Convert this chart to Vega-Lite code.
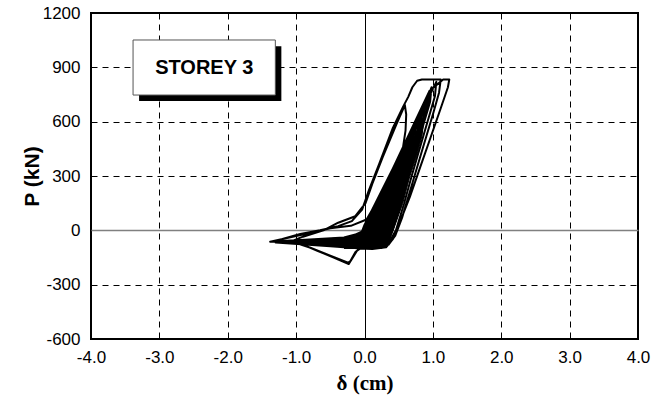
{
  "$schema": "https://vega.github.io/schema/vega-lite/v6.json",
  "width": 547,
  "height": 326,
  "autosize": "none",
  "padding": {"left": 91, "top": 13, "right": 18, "bottom": 67},
  "background": "white",
  "config": {
    "view": {"stroke": "black", "strokeWidth": 2},
    "font": "Liberation Sans"
  },
  "datasets": {
    "loops": [
      {"d":0,"p":0},
      {"d":0.02,"p":30},{"d":0.18,"p":150},{"d":0.42,"p":275},{"d":0.45,"p":300},
      {"d":0.43,"p":220},{"d":0.38,"p":150},{"d":0.26,"p":0},{"d":0.18,"p":-65},{"d":0.06,"p":-98},{"d":-0.05,"p":-100},{"d":-0.2,"p":-85},{"d":-0.4,"p":-50},
      {"d":-0.25,"p":-42},{"d":-0.05,"p":-20},{"d":0.02,"p":30},{"d":0.19,"p":150},{"d":0.39,"p":300},{"d":0.49,"p":335},{"d":0.52,"p":360},
      {"d":0.5,"p":280},{"d":0.4,"p":150},{"d":0.28,"p":0},{"d":0.2,"p":-65},{"d":0.08,"p":-98},{"d":-0.05,"p":-100},{"d":-0.3,"p":-88},{"d":-0.5,"p":-52},
      {"d":-0.3,"p":-50},{"d":-0.05,"p":-20},{"d":0.02,"p":30},{"d":0.2,"p":150},{"d":0.4,"p":300},{"d":0.55,"p":395},{"d":0.58,"p":420},
      {"d":0.56,"p":340},{"d":0.53,"p":300},{"d":0.41,"p":150},{"d":0.3,"p":0},{"d":0.22,"p":-65},{"d":0.1,"p":-98},{"d":-0.05,"p":-100},{"d":-0.35,"p":-88},{"d":-0.6,"p":-55},
      {"d":-0.42,"p":-52},{"d":-0.25,"p":-42},{"d":-0.05,"p":-20},{"d":0.02,"p":30},{"d":0.18,"p":150},{"d":0.38,"p":300},{"d":0.6,"p":435},{"d":0.63,"p":460},
      {"d":0.61,"p":380},{"d":0.55,"p":300},{"d":0.43,"p":150},{"d":0.32,"p":0},{"d":0.24,"p":-65},{"d":0.12,"p":-98},{"d":-0.05,"p":-100},{"d":-0.4,"p":-88},{"d":-0.7,"p":-57},
      {"d":-0.48,"p":-52},{"d":-0.25,"p":-42},{"d":-0.05,"p":-20},{"d":0.03,"p":30},{"d":0.21,"p":150},{"d":0.41,"p":300},{"d":0.61,"p":450},{"d":0.65,"p":485},{"d":0.68,"p":510},
      {"d":0.66,"p":430},{"d":0.56,"p":300},{"d":0.44,"p":150},{"d":0.33,"p":0},{"d":0.25,"p":-65},{"d":0.13,"p":-98},{"d":-0.05,"p":-100},{"d":-0.4,"p":-88},{"d":-0.8,"p":-60},
      {"d":-0.5,"p":-52},{"d":-0.25,"p":-42},{"d":-0.05,"p":-20},{"d":0.0,"p":30},{"d":0.16,"p":150},{"d":0.36,"p":300},{"d":0.56,"p":450},{"d":0.69,"p":525},{"d":0.72,"p":550},
      {"d":0.7,"p":470},{"d":0.57,"p":300},{"d":0.45,"p":150},{"d":0.34,"p":0},{"d":0.26,"p":-65},{"d":0.14,"p":-98},{"d":-0.05,"p":-100},{"d":-0.4,"p":-88},{"d":-0.85,"p":-61},
      {"d":-0.51,"p":-52},{"d":-0.25,"p":-42},{"d":-0.05,"p":-20},{"d":0.04,"p":30},{"d":0.22,"p":150},{"d":0.42,"p":300},{"d":0.62,"p":450},{"d":0.73,"p":565},{"d":0.76,"p":590},
      {"d":0.74,"p":510},{"d":0.58,"p":300},{"d":0.46,"p":150},{"d":0.35,"p":0},{"d":0.27,"p":-65},{"d":0.15,"p":-98},{"d":-0.05,"p":-100},{"d":-0.4,"p":-88},{"d":-0.9,"p":-62},
      {"d":-0.54,"p":-52},{"d":-0.25,"p":-42},{"d":-0.05,"p":-20},{"d":0.02,"p":30},{"d":0.19,"p":150},{"d":0.39,"p":300},{"d":0.59,"p":450},{"d":0.77,"p":605},{"d":0.8,"p":630},
      {"d":0.78,"p":550},{"d":0.59,"p":300},{"d":0.47,"p":150},{"d":0.36,"p":0},{"d":0.28,"p":-65},{"d":0.16,"p":-98},{"d":-0.05,"p":-100},{"d":-0.45,"p":-88},{"d":-0.95,"p":-63},
      {"d":-0.57,"p":-52},{"d":-0.25,"p":-42},{"d":-0.05,"p":-20},{"d":0.04,"p":30},{"d":0.23,"p":150},{"d":0.43,"p":300},{"d":0.63,"p":450},{"d":0.81,"p":635},{"d":0.84,"p":660},
      {"d":0.82,"p":580},{"d":0.6,"p":300},{"d":0.49,"p":150},{"d":0.37,"p":0},{"d":0.29,"p":-65},{"d":0.17,"p":-98},{"d":-0.05,"p":-100},{"d":-0.45,"p":-88},{"d":-1.0,"p":-64},
      {"d":-0.6,"p":-52},{"d":-0.25,"p":-42},{"d":-0.05,"p":-20},{"d":0.02,"p":30},{"d":0.18,"p":150},{"d":0.38,"p":300},{"d":0.58,"p":450},{"d":0.76,"p":600},{"d":0.85,"p":675},{"d":0.88,"p":700},
      {"d":0.86,"p":620},{"d":0.61,"p":300},{"d":0.5,"p":150},{"d":0.38,"p":0},{"d":0.3,"p":-65},{"d":0.18,"p":-98},{"d":-0.05,"p":-100},{"d":-0.5,"p":-88},{"d":-1.05,"p":-65},
      {"d":-0.63,"p":-52},{"d":-0.25,"p":-42},{"d":-0.05,"p":-20},{"d":0.03,"p":30},{"d":0.21,"p":150},{"d":0.41,"p":300},{"d":0.61,"p":450},{"d":0.79,"p":600},{"d":0.89,"p":715},{"d":0.92,"p":740},
      {"d":0.9,"p":660},{"d":0.62,"p":300},{"d":0.51,"p":150},{"d":0.39,"p":0},{"d":0.31,"p":-65},{"d":0.19,"p":-98},{"d":-0.05,"p":-100},{"d":-0.5,"p":-88},{"d":-1.1,"p":-65},
      {"d":-0.9,"p":-35},{"d":-0.6,"p":0},{"d":-0.385,"p":42},{"d":-0.135,"p":78},{"d":0.015,"p":150},{"d":0.115,"p":258},{"d":0.265,"p":403},{"d":0.465,"p":584},{"d":0.59,"p":692},
      {"d":0.61,"p":640},{"d":0.6,"p":550},{"d":0.5,"p":300},{"d":0.4,"p":150},{"d":0.3,"p":0},{"d":0.22,"p":-65},{"d":0.1,"p":-98},{"d":-0.05,"p":-100},{"d":-0.5,"p":-88},{"d":-1.15,"p":-66},
      {"d":-0.69,"p":-52},{"d":-0.25,"p":-42},{"d":-0.05,"p":-20},{"d":0.02,"p":30},{"d":0.2,"p":150},{"d":0.4,"p":300},{"d":0.6,"p":450},{"d":0.78,"p":600},{"d":0.92,"p":730},{"d":0.98,"p":790},
      {"d":0.96,"p":710},{"d":0.64,"p":300},{"d":0.53,"p":150},{"d":0.41,"p":0},{"d":0.33,"p":-65},{"d":0.21,"p":-98},{"d":-0.05,"p":-100},{"d":-0.5,"p":-88},{"d":-1.2,"p":-66},
      {"d":-0.72,"p":-52},{"d":-0.25,"p":-42},{"d":-0.05,"p":-20},{"d":0.03,"p":30},{"d":0.22,"p":150},{"d":0.42,"p":300},{"d":0.62,"p":450},{"d":0.8,"p":600},{"d":0.96,"p":750},{"d":1.05,"p":820},
      {"d":1.03,"p":740},{"d":0.69,"p":300},{"d":0.58,"p":150},{"d":0.46,"p":0},{"d":0.36,"p":-65},{"d":0.22,"p":-98},{"d":-0.05,"p":-100},{"d":-0.5,"p":-88},{"d":-1.3,"p":-67},
      {"d":-1.2,"p":-48},{"d":-0.94,"p":-20},{"d":-0.65,"p":0},{"d":-0.385,"p":23},{"d":-0.185,"p":51},{"d":-0.035,"p":114},{"d":0.065,"p":222},{"d":0.215,"p":367},{"d":0.415,"p":566},{"d":0.565,"p":683},{"d":0.64,"p":737},{"d":0.7,"p":790},{"d":0.77,"p":826},{"d":0.84,"p":833},{"d":1.115,"p":833},
      {"d":1.09,"p":760},{"d":1.0,"p":640},{"d":0.85,"p":450},{"d":0.7,"p":260},{"d":0.55,"p":70},{"d":0.45,"p":-30},{"d":0.35,"p":-80},{"d":0.15,"p":-100},{"d":-0.06,"p":-96},{"d":-0.11,"p":-113},{"d":-0.23,"p":-186},{"d":-0.45,"p":-150},{"d":-0.69,"p":-113},{"d":-1.04,"p":-57},{"d":-1.38,"p":-63},
      {"d":-1.1,"p":-40},{"d":-0.8,"p":-15},{"d":-0.5,"p":12},{"d":-0.2,"p":25},{"d":0.03,"p":60},{"d":0.2,"p":170},{"d":0.45,"p":370},{"d":0.7,"p":570},{"d":0.95,"p":770},{"d":1.15,"p":833},{"d":1.24,"p":833},
      {"d":1.22,"p":790},{"d":1.115,"p":674},{"d":0.965,"p":511},{"d":0.815,"p":349},{"d":0.665,"p":186},{"d":0.515,"p":42},{"d":0.415,"p":-49},{"d":0.315,"p":-94},{"d":0.115,"p":-103},{"d":-0.06,"p":-100},{"d":-0.13,"p":-118},{"d":-0.21,"p":-172},{"d":-0.24,"p":-178},{"d":-0.5,"p":-140},{"d":-0.8,"p":-95},{"d":-1.1,"p":-58},{"d":-1.35,"p":-62},
      {"d":-0.8,"p":-50},{"d":-0.3,"p":-40},{"d":-0.05,"p":-15},{"d":0.03,"p":30},{"d":0.2,"p":150},{"d":0.42,"p":320},{"d":0.65,"p":500},{"d":0.85,"p":680},{"d":0.95,"p":760},
      {"d":0.93,"p":690},{"d":0.63,"p":300},{"d":0.51,"p":150},{"d":0.4,"p":0},{"d":0.32,"p":-65},{"d":0.2,"p":-98},{"d":-0.05,"p":-100},{"d":-0.5,"p":-86},{"d":-1.0,"p":-62},
      {"d":-0.6,"p":-50},{"d":-0.25,"p":-40},{"d":-0.05,"p":-18},{"d":0.03,"p":30},{"d":0.21,"p":150},{"d":0.41,"p":300},{"d":0.6,"p":440},{"d":0.8,"p":600},
      {"d":0.78,"p":520},{"d":0.61,"p":300},{"d":0.5,"p":150},{"d":0.38,"p":0},{"d":0.3,"p":-65},{"d":0.18,"p":-98},{"d":-0.05,"p":-100},{"d":-0.45,"p":-86},{"d":-0.9,"p":-60},
      {"d":-0.45,"p":-50},{"d":-0.2,"p":-38},{"d":-0.04,"p":-15},{"d":0.03,"p":30},{"d":0.2,"p":150},{"d":0.4,"p":300},{"d":0.66,"p":470},
      {"d":0.64,"p":400},{"d":0.56,"p":300},{"d":0.45,"p":150},{"d":0.33,"p":0},{"d":0.25,"p":-65},{"d":0.13,"p":-98},{"d":-0.05,"p":-100},{"d":-0.35,"p":-85},{"d":-0.7,"p":-58},
      {"d":-0.3,"p":-45},{"d":-0.05,"p":-18},{"d":0.02,"p":30},{"d":0.19,"p":150},{"d":0.38,"p":280},{"d":0.5,"p":340},
      {"d":0.48,"p":270},{"d":0.39,"p":150},{"d":0.27,"p":0},{"d":0.19,"p":-65},{"d":0.07,"p":-98},{"d":-0.05,"p":-100},{"d":-0.3,"p":-80},{"d":-0.5,"p":-52},
      {"d":-0.2,"p":-35},{"d":0.0,"p":0}
    ],
    "core": [
      {"g":"band","d":-0.3,"p":-100},{"g":"band","d":0.25,"p":-100},{"g":"band","d":0.35,"p":-70},{"g":"band","d":0.42,"p":0},{"g":"band","d":0.56,"p":150},{"g":"band","d":0.66,"p":295},{"g":"band","d":0.77,"p":421},{"g":"band","d":0.84,"p":520},{"g":"band","d":0.86,"p":580},{"g":"band","d":0.8,"p":560},{"g":"band","d":0.64,"p":470},{"g":"band","d":0.52,"p":400},{"g":"band","d":0.36,"p":290},{"g":"band","d":0.18,"p":150},{"g":"band","d":0.03,"p":30},{"g":"band","d":-0.08,"p":-25},{"g":"band","d":-0.3,"p":-60},
      {"g":"wedge","d":-1.2,"p":-64},{"g":"wedge","d":-0.6,"p":-48},{"g":"wedge","d":-0.2,"p":-38},{"g":"wedge","d":0.0,"p":-40},{"g":"wedge","d":0.0,"p":-95},{"g":"wedge","d":-0.3,"p":-92},{"g":"wedge","d":-0.7,"p":-80}
    ]
  },
  "layer": [
    {
      "data": {"name": "core"},
      "mark": {"type": "line", "fill": "black", "stroke": "black", "strokeWidth": 1},
      "encoding": {
        "x": {
          "field": "d", "type": "quantitative",
          "scale": {"domain": [-4, 4], "nice": false, "zero": false},
          "axis": {
            "values": [-4, -3, -2, -1, 0, 1, 2, 3, 4],
            "format": ".1f",
            "labelExpr": "replace(datum.label, '−', '-')",
            "title": "δ (cm)",
            "titleFont": "Liberation Serif",
            "titleFontSize": 21,
            "titleFontWeight": "bold",
            "titleColor": "black",
            "titleBaseline": "middle",
            "titleY": 44,
            "labelFont": "Liberation Sans",
            "labelFontSize": 17,
            "labelColor": "black",
            "labelPadding": 10,
            "labelFlush": false,
            "ticks": false,
            "domain": false,
            "grid": true,
            "gridColor": "black",
            "gridOpacity": 1,
            "gridWidth": 1,
            "gridDash": {"condition": {"test": "datum.value === 0", "value": []}, "value": [6, 5]}
          }
        },
        "y": {
          "field": "p", "type": "quantitative",
          "scale": {"domain": [-600, 1200], "nice": false, "zero": false},
          "axis": {
            "values": [-600, -300, 0, 300, 600, 900, 1200],
            "format": "d",
            "labelExpr": "replace(datum.label, '−', '-')",
            "title": "P (kN)",
            "titleFont": "Liberation Sans",
            "titleFontSize": 21,
            "titleFontWeight": "bold",
            "titleColor": "black",
            "titleAngle": -90,
            "titleBaseline": "middle",
            "titleAlign": "center",
            "titleX": -59,
            "titleY": 163,
            "labelFont": "Liberation Sans",
            "labelFontSize": 17,
            "labelColor": "black",
            "labelPadding": 11,
            "labelFlush": false,
            "ticks": false,
            "domain": false,
            "grid": true,
            "gridColor": {"condition": {"test": "datum.value === 0", "value": "#808080"}, "value": "black"},
            "gridOpacity": 1,
            "gridWidth": {"condition": {"test": "datum.value === 0", "value": 1.5}, "value": 1},
            "gridDash": {"condition": {"test": "datum.value === 0", "value": []}, "value": [6, 5]}
          }
        },
        "detail": {"field": "g", "type": "nominal"},
        "order": {"value": null}
      }
    },
    {
      "data": {"name": "loops"},
      "mark": {"type": "line", "color": "black", "strokeWidth": 2, "strokeJoin": "round", "clip": true},
      "encoding": {
        "x": {"field": "d", "type": "quantitative"},
        "y": {"field": "p", "type": "quantitative"},
        "order": {"value": null}
      }
    },
    {
      "data": {"values": [{}]},
      "mark": {"type": "rect", "fill": "black"},
      "encoding": {
        "x": {"datum": -3.297},
        "x2": {"datum": -1.216},
        "y": {"datum": 1017},
        "y2": {"datum": 714}
      }
    },
    {
      "data": {"values": [{}]},
      "mark": {"type": "rect", "fill": "white", "stroke": "#555555", "strokeWidth": 1},
      "encoding": {
        "x": {"datum": -3.385},
        "x2": {"datum": -1.304},
        "y": {"datum": 1051},
        "y2": {"datum": 747}
      }
    },
    {
      "data": {"values": [{}]},
      "mark": {"type": "text", "text": "STOREY 3", "font": "Liberation Sans", "fontSize": 20, "fontWeight": "bold", "color": "black", "align": "center", "baseline": "middle"},
      "encoding": {
        "x": {"datum": -2.344},
        "y": {"datum": 896}
      }
    }
  ]
}
